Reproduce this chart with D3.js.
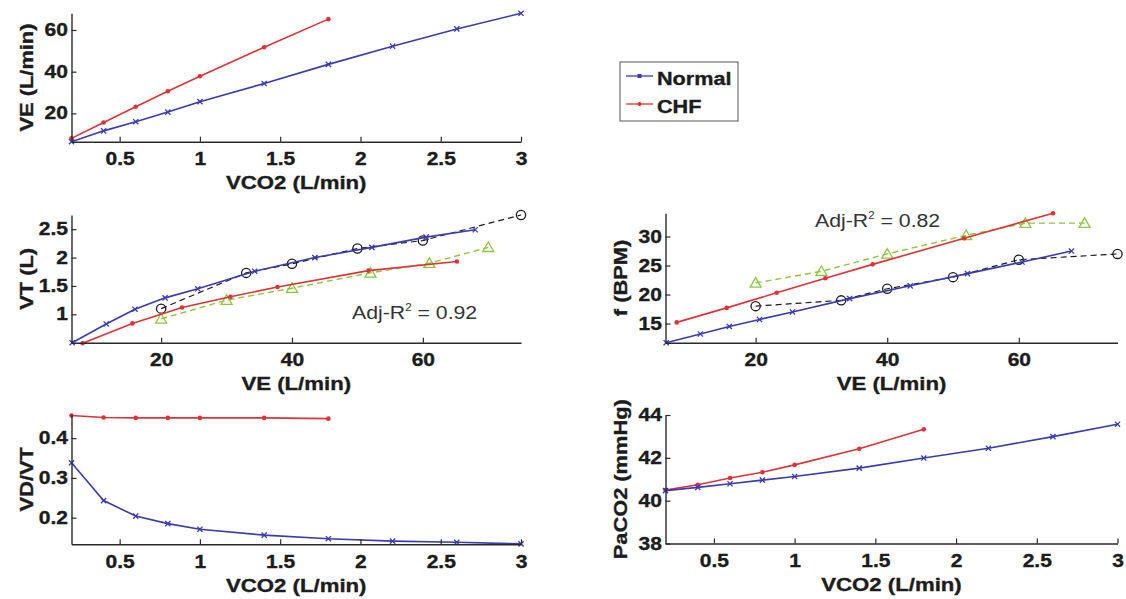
<!DOCTYPE html>
<html>
<head>
<meta charset="utf-8">
<script src="https://cdn.jsdelivr.net/npm/d3@7"></script>
<style>
  html, body { margin: 0; padding: 0; background: #ffffff; }
  svg { display: block; }
</style>
</head>
<body>
<svg id="chart" width="1126" height="599"></svg>
<script>
// ---------------- data ----------------
const vco2Normal = [0.2, 0.4, 0.6, 0.8, 1.0, 1.4, 1.8, 2.2, 2.6, 3.0];
const vco2CHF    = [0.2, 0.4, 0.6, 0.8, 1.0, 1.4, 1.8];

const veNormal = [6.4, 11.6, 16.0, 20.6, 25.6, 34.3, 43.5, 52.2, 60.5, 68.0];
const veCHF    = [8.0, 15.6, 23.2, 30.6, 37.8, 51.7, 65.2];

const vtNormal = [0.50, 0.83, 1.09, 1.29, 1.45, 1.76, 2.00, 2.18, 2.36, 2.49];
const vtCHF    = [0.49, 0.84, 1.12, 1.31, 1.48, 1.77, 1.93];

const fNormal = [11.7, 13.2, 14.5, 15.7, 17.0, 19.3, 21.5, 23.6, 25.6, 27.5];
const fCHF    = [15.2, 17.7, 20.3, 22.8, 25.2, 29.7, 34.0];

const vdvtNormal = [0.338, 0.243, 0.204, 0.185, 0.171, 0.156, 0.147, 0.141, 0.138, 0.134];
const vdvtCHF    = [0.457, 0.452, 0.451, 0.451, 0.451, 0.451, 0.449];

const paco2Normal = [40.47, 40.62, 40.79, 40.96, 41.13, 41.52, 41.99, 42.45, 42.99, 43.57];
const paco2CHF    = [40.50, 40.74, 41.06, 41.33, 41.67, 42.42, 43.33];

// measured data (dashed)
const veMeasNormal = [20, 33, 40, 50, 60, 75];
const vtMeasNormal = [1.10, 1.73, 1.89, 2.16, 2.30, 2.75];
const fMeasNormal  = [18, 19, 21, 23, 26, 27];

const veMeasCHF = [20, 30, 40, 52, 61, 70];
const vtMeasCHF = [0.92, 1.25, 1.46, 1.73, 1.90, 2.18];
const fMeasCHF  = [22, 24, 27, 30.2, 32.3, 32.3];

// tick labels
const ticksVCO2 = [0.5, 1, 1.5, 2, 2.5, 3];
const ticksVE   = [20, 40, 60];
const ticksVEy  = [20, 40, 60];
const ticksVT   = [1, 1.5, 2, 2.5];
const ticksF    = [15, 20, 25, 30];
const ticksVDVT = [0.2, 0.3, 0.4];
const ticksPa   = [38, 40, 42, 44];

const legendNames = ["Normal", "CHF"];
const annotations = ["0.92", "0.82"];

// ---------------- style ----------------
const BLUE = "#3a3ab2";
const RED = "#dd3338";
const GREEN = "#8cc63f";
const BLACK = "#1a1a1a";
const AXIS = "#2a2a2a";
const TEXT = "#1c1c1c";
const FONT = "'Liberation Sans', Arial, Helvetica, sans-serif";

const svg = d3.select("#chart");

function zip(xs, ys) { return xs.map((x, i) => [x, ys[i]]); }

function boldText(sel, size) {
  sel.style("font-family", FONT).style("font-weight", "bold").style("font-size", size + "px")
    .attr("fill", TEXT).attr("stroke", TEXT).attr("stroke-width", 0.35);
}

function drawPanel(cfg) {
  const x = d3.scaleLinear().domain(cfg.xDomain).range([cfg.left, cfg.right]);
  const y = d3.scaleLinear().domain(cfg.yDomain).range([cfg.bottom, cfg.top]);
  const g = svg.append("g");

  // series
  const line = d3.line().x(d => x(d[0])).y(d => y(d[1]));
  cfg.series.forEach(s => {
    const data = zip(s.x, s.y);
    g.append("path").datum(data)
      .attr("d", line)
      .attr("fill", "none")
      .attr("stroke", s.color)
      .attr("stroke-width", s.width || 1.6)
      .attr("stroke-dasharray", s.dash || null);
    const mg = g.append("g");
    data.forEach(d => {
      const px = x(d[0]), py = y(d[1]);
      if (s.marker === "x") {
        mg.append("path")
          .attr("d", "M-2.6,-2.6L2.6,2.6M-2.6,2.6L2.6,-2.6")
          .attr("transform", `translate(${px},${py})`)
          .attr("stroke", s.color).attr("stroke-width", 1.3).attr("fill", "none");
      } else if (s.marker === "dot") {
        mg.append("circle").attr("cx", px).attr("cy", py).attr("r", 2.3).attr("fill", s.color);
      } else if (s.marker === "circle") {
        mg.append("circle").attr("cx", px).attr("cy", py).attr("r", 4.6)
          .attr("fill", "none").attr("stroke", s.color).attr("stroke-width", 1.3);
      } else if (s.marker === "tri") {
        mg.append("path").attr("d", d3.symbol().type(d3.symbolTriangle).size(52)())
          .attr("transform", `translate(${px},${py + 1})`)
          .attr("fill", "none").attr("stroke", s.color).attr("stroke-width", 1.3);
      }
    });
  });

  // axes
  const fmt = d => String(d);
  const xa = g.append("g").attr("transform", `translate(0,${cfg.bottom})`)
    .call(d3.axisBottom(x).tickValues(cfg.xTicks).tickFormat(fmt)
      .tickSizeInner(-5).tickSizeOuter(0).tickPadding(11));
  const ya = g.append("g").attr("transform", `translate(${cfg.left},0)`)
    .call(d3.axisLeft(y).tickValues(cfg.yTicks).tickFormat(fmt)
      .tickSizeInner(-5).tickSizeOuter(0).tickPadding(3));
  [xa, ya].forEach(a => {
    a.select(".domain").attr("stroke", AXIS).attr("stroke-width", 1.4);
    a.selectAll(".tick line").attr("stroke", AXIS).attr("stroke-width", 1.2);
    a.selectAll("text")
      .call(boldText, 17.5)
      .attr("transform", "scale(1.2,1)");
  });

  // axis labels
  g.append("text")
    .attr("transform", `translate(${(cfg.left + cfg.right) / 2},${cfg.bottom + 47.5}) scale(1.2,1)`)
    .attr("text-anchor", "middle")
    .call(boldText, 18.5)
    .text(cfg.xLabel);
  g.append("text")
    .attr("transform", `translate(${cfg.left - 45},${(cfg.top + cfg.bottom) / 2}) rotate(-90) scale(1.18,1)`)
    .attr("text-anchor", "middle")
    .attr("dy", "0.36em")
    .call(boldText, 18.5)
    .text(cfg.yLabel);

  if (cfg.annot) {
    const t = g.append("text")
      .attr("transform", `translate(${cfg.annot.x},${cfg.annot.y}) scale(1.15,1)`)
      .style("font-family", FONT).style("font-size", "18.5px")
      .attr("fill", "#333");
    t.append("tspan").text("Adj-R");
    t.append("tspan").attr("dy", -8).style("font-size", "10px").text("2");
    t.append("tspan").attr("dy", 8).text(" = " + cfg.annot.text);
  }
}

const L1 = 71.5, R1 = 521, L2 = 665.5, R2 = 1117.5;

// Panel: VE vs VCO2
drawPanel({
  left: L1, right: R1, top: 13.3, bottom: 141.7,
  xDomain: [0.2, 3], yDomain: [6.4, 68],
  xTicks: ticksVCO2, yTicks: ticksVEy,
  xLabel: "VCO2 (L/min)", yLabel: "VE (L/min)",
  series: [
    { x: vco2CHF, y: veCHF, color: RED, marker: "dot" },
    { x: vco2Normal, y: veNormal, color: BLUE, marker: "x" }
  ]
});

// Panel: VT vs VE
drawPanel({
  left: L1, right: R1, top: 215, bottom: 342.7,
  xDomain: [6.3, 75], yDomain: [0.5, 2.75],
  xTicks: ticksVE, yTicks: ticksVT,
  xLabel: "VE (L/min)", yLabel: "VT (L)",
  annot: { x: 352, y: 318.5, text: annotations[0] },
  series: [
    { x: veMeasNormal, y: vtMeasNormal, color: BLACK, marker: "circle", dash: "6,4", width: 1.2 },
    { x: veMeasCHF, y: vtMeasCHF, color: GREEN, marker: "tri", dash: "6,4", width: 1.4 },
    { x: veCHF, y: vtCHF, color: RED, marker: "dot" },
    { x: veNormal, y: vtNormal, color: BLUE, marker: "x" }
  ]
});

// Panel: f vs VE
drawPanel({
  left: L2, right: R2, top: 213.3, bottom: 342.7,
  xDomain: [6.3, 75], yDomain: [11.7, 34],
  xTicks: ticksVE, yTicks: ticksF,
  xLabel: "VE (L/min)", yLabel: "f (BPM)",
  annot: { x: 815, y: 227, text: annotations[1] },
  series: [
    { x: veMeasNormal, y: fMeasNormal, color: BLACK, marker: "circle", dash: "6,4", width: 1.2 },
    { x: veMeasCHF, y: fMeasCHF, color: GREEN, marker: "tri", dash: "6,4", width: 1.4 },
    { x: veCHF, y: fCHF, color: RED, marker: "dot" },
    { x: veNormal, y: fNormal, color: BLUE, marker: "x" }
  ]
});

// Panel: VD/VT vs VCO2
drawPanel({
  left: L1, right: R1, top: 414.3, bottom: 544.3,
  xDomain: [0.2, 3], yDomain: [0.133, 0.46],
  xTicks: ticksVCO2, yTicks: ticksVDVT,
  xLabel: "VCO2 (L/min)", yLabel: "VD/VT",
  series: [
    { x: vco2CHF, y: vdvtCHF, color: RED, marker: "dot" },
    { x: vco2Normal, y: vdvtNormal, color: BLUE, marker: "x" }
  ]
});

// Panel: PaCO2 vs VCO2
drawPanel({
  left: L2, right: R2, top: 415, bottom: 543.5,
  xDomain: [0.2, 3], yDomain: [38, 44],
  xTicks: ticksVCO2, yTicks: ticksPa,
  xLabel: "VCO2 (L/min)", yLabel: "PaCO2 (mmHg)",
  series: [
    { x: vco2CHF, y: paco2CHF, color: RED, marker: "dot" },
    { x: vco2Normal, y: paco2Normal, color: BLUE, marker: "x" }
  ]
});

// Legend
const lg = svg.append("g");
lg.append("rect").attr("x", 620).attr("y", 62).attr("width", 118).attr("height", 59)
  .attr("fill", "#fff").attr("stroke", "#555").attr("stroke-width", 1);
const legColors = [BLUE, RED];
const legY = [76, 104];
legendNames.forEach((name, i) => {
  lg.append("line").attr("x1", 626).attr("x2", 653).attr("y1", legY[i]).attr("y2", legY[i])
    .attr("stroke", legColors[i]).attr("stroke-width", 1.3);
  if (i === 0) {
    lg.append("rect").attr("x", 637.5).attr("y", legY[i] - 2).attr("width", 4).attr("height", 4).attr("fill", legColors[i]);
  } else {
    lg.append("circle").attr("cx", 639.5).attr("cy", legY[i]).attr("r", 2).attr("fill", legColors[i]);
  }
  lg.append("text")
    .attr("transform", `translate(657,${legY[i] + 9}) scale(1.17,1)`)
    .call(boldText, 18.5)
    .text(name);
});
</script>
</body>
</html>
